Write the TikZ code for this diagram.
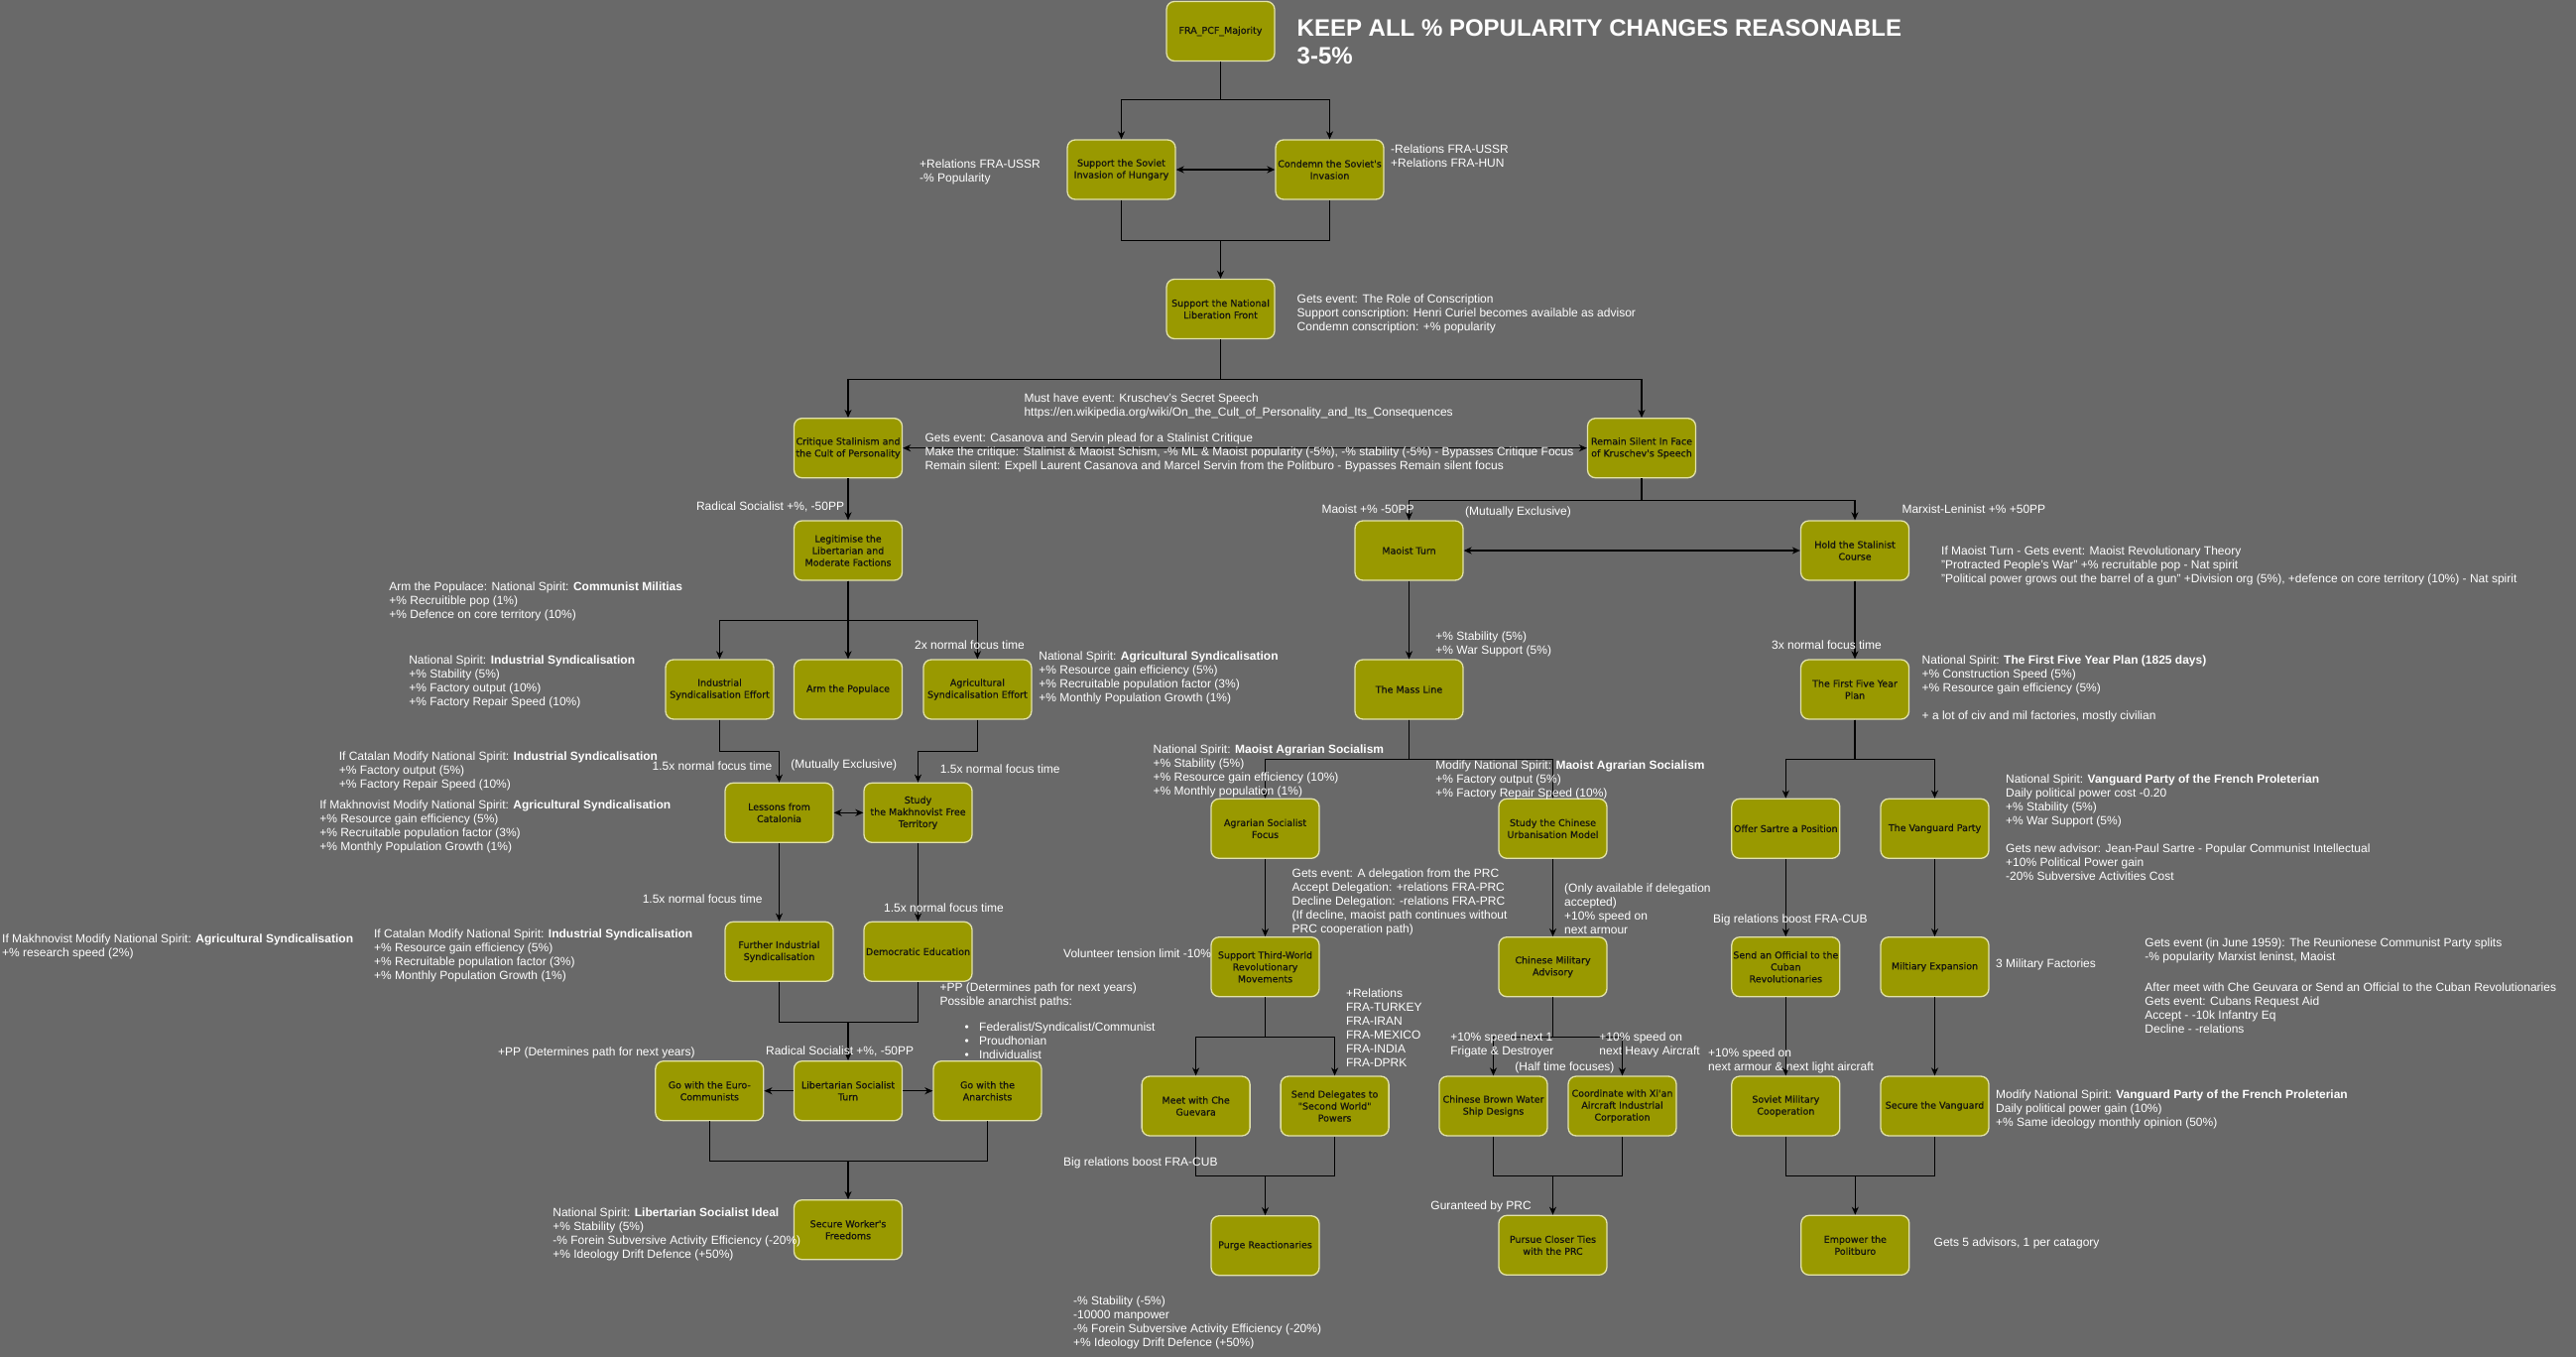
\documentclass[tikz,border=0pt]{standalone}
\usepackage{fontspec}
\setmainfont{Liberation Sans}
\newfontfamily\boxfont[FakeBold=0.6]{DejaVu Sans}
\usetikzlibrary{arrows.meta}
\definecolor{bg}{RGB}{105,105,105}
\definecolor{olivefill}{RGB}{153,153,0}
\definecolor{boxline}{RGB}{226,226,170}
\definecolor{boxtext}{RGB}{20,20,15}
\begin{document}
\begin{tikzpicture}[x=1pt,y=-1pt,
  focus/.style={draw=boxline, fill=olivefill, rounded corners=8pt, line width=1.3pt,
    minimum width=109pt, minimum height=60pt, inner sep=1pt, align=center,
    text=boxtext, font=\boxfont\fontsize{9.5}{12}\selectfont},
  note/.style={inner sep=0pt, anchor=north west, align=left, text=white,
    font=\fontsize{12}{14}\selectfont},
  link/.style={draw=black, line width=1.3pt},
  arr/.style={link, -{Stealth[length=8pt,width=7pt,inset=2.5pt]}},
  dbl/.style={link, {Stealth[length=8pt,width=7pt,inset=2.5pt]}-{Stealth[length=8pt,width=7pt,inset=2.5pt]}}]

% canvas
\fill[bg] (0,0) rectangle (2597,1368);
\useasboundingbox (0,0) rectangle (2597,1368);

% ---------- focus boxes ----------
\node[focus] (fra)  at (1230.5,31.5)  {FRA\_PCF\_Majority};
\node[focus] (sup)  at (1130.5,171)   {Support the Soviet\\Invasion of Hungary};
\node[focus] (con)  at (1340.5,171)   {Condemn the Soviet's\\Invasion};
\node[focus] (nlf)  at (1230.5,311.5) {Support the National\\Liberation Front};
\node[focus] (crit) at (855,451.7)    {Critique Stalinism and\\the Cult of Personality};
\node[focus] (rem)  at (1655,451.7)   {Remain Silent In Face\\of Kruschev's Speech};
\node[focus] (leg)  at (855,555)      {Legitimise the\\Libertarian and\\Moderate Factions};
\node[focus] (mao)  at (1420.5,555)   {Maoist Turn};
\node[focus] (hold) at (1870,555)     {Hold the Stalinist\\Course};
\node[focus] (ind)  at (725.5,695)    {Industrial\\Syndicalisation Effort};
\node[focus] (arm)  at (855,695)      {Arm the Populace};
\node[focus] (agr)  at (985.4,695)    {Agricultural\\Syndicalisation Effort};
\node[focus] (mass) at (1420.5,695)   {The Mass Line};
\node[focus] (five) at (1870,695)     {The First Five Year\\Plan};
\node[focus] (les)  at (785.5,819.3)  {Lessons from\\Catalonia};
\node[focus] (mak)  at (925.5,819.3)  {Study\\the Makhnovist Free\\Territory};
\node[focus] (agf)  at (1275.5,835.3) {Agrarian Socialist\\Focus};
\node[focus] (urb)  at (1565.5,835.3) {Study the Chinese\\Urbanisation Model};
\node[focus] (sar)  at (1800.3,835.3) {Offer Sartre a Position};
\node[focus] (van)  at (1950.5,835.3) {The Vanguard Party};
\node[focus] (fis)  at (785.5,959.3)  {Further Industrial\\Syndicalisation};
\node[focus] (dem)  at (925.5,959.3)  {Democratic Education};
\node[focus] (tw)   at (1275.5,974.7) {Support Third-World\\Revolutionary\\Movements};
\node[focus] (cma)  at (1565.5,974.7) {Chinese Military\\Advisory};
\node[focus] (off)  at (1800.3,974.7) {Send an Official to the\\Cuban\\Revolutionaries};
\node[focus] (mex)  at (1950.5,974.7) {Miltiary Expansion};
\node[focus] (euro) at (715.3,1099.7) {Go with the Euro-\\Communists};
\node[focus] (lib)  at (855,1099.7)   {Libertarian Socialist\\Turn};
\node[focus] (ana)  at (995.5,1099.7) {Go with the\\Anarchists};
\node[focus] (che)  at (1205.6,1115)  {Meet with Che\\Guevara};
\node[focus] (del)  at (1345.6,1115)  {Send Delegates to\\"Second World"\\Powers};
\node[focus] (bws)  at (1505.5,1115)  {Chinese Brown Water\\Ship Designs};
\node[focus] (xian) at (1635.5,1115)  {Coordinate with Xi'an\\Aircraft Industrial\\Corporation};
\node[focus] (smc)  at (1800.3,1115)  {Soviet Military\\Cooperation};
\node[focus] (svg)  at (1950.5,1115)  {Secure the Vanguard};
\node[focus] (sec)  at (855,1239.7)   {Secure Worker's\\Freedoms};
\node[focus] (pur)  at (1275.5,1255.7){Purge Reactionaries};
\node[focus] (pct)  at (1565.5,1255.3){Pursue Closer Ties\\with the PRC};
\node[focus] (emp)  at (1870.3,1255.3){Empower the\\Politburo};

% ---------- connectors ----------
\draw[arr] (fra.south) -- ++(0,38.5) -| (sup.north);
\draw[arr] (fra.south) -- ++(0,38.5) -| (con.north);
\draw[dbl] (sup.east) -- (con.west);
\draw[link] (sup.south) -- ++(0,41) coordinate (m1) -| (con.south);
\draw[arr] (m1 -| nlf.north) -- (nlf.north);
\draw[arr] (nlf.south) -- ++(0,40) -| (crit.north);
\draw[arr] (nlf.south) -- ++(0,40) -| (rem.north);
\draw[dbl] (crit.east) -- (rem.west);
\draw[arr] (crit.south) -- (leg.north);
\draw[arr] (rem.south) -- ++(0,22) -| (mao.north);
\draw[arr] (rem.south) -- ++(0,22) -| (hold.north);
\draw[dbl] (mao.east) -- (hold.west);
\draw[arr] (mao.south) -- (mass.north);
\draw[arr] (hold.south) -- (five.north);
\draw[arr] (leg.south) -- ++(0,40) -| (ind.north);
\draw[arr] (leg.south) -- (arm.north);
\draw[arr] (leg.south) -- ++(0,40) -| (agr.north);
\draw[arr] (ind.south) -- ++(0,32) -| (les.north);
\draw[arr] (agr.south) -- ++(0,32) -| (mak.north);
\draw[dbl] (les.east) -- (mak.west);
\draw[arr] (les.south) -- (fis.north);
\draw[arr] (mak.south) -- (dem.north);
\draw[link] (fis.south) -- ++(0,40.4) coordinate (m2) -| (dem.south);
\draw[arr] (m2 -| lib.north) -- (lib.north);
\draw[arr] (lib.west) -- (euro.east);
\draw[arr] (lib.east) -- (ana.west);
\draw[link] (euro.south) -- ++(0,40) coordinate (m3) -| (ana.south);
\draw[arr] (m3 -| sec.north) -- (sec.north);
\draw[arr] (mass.south) -- ++(0,40) -| (agf.north);
\draw[arr] (mass.south) -- ++(0,40) -| (urb.north);
\draw[arr] (five.south) -- ++(0,40) -| (sar.north);
\draw[arr] (five.south) -- ++(0,40) -| (van.north);
\draw[arr] (agf.south) -- (tw.north);
\draw[arr] (urb.south) -- (cma.north);
\draw[arr] (sar.south) -- (off.north);
\draw[arr] (van.south) -- (mex.north);
\draw[arr] (tw.south) -- ++(0,40) -| (che.north);
\draw[arr] (tw.south) -- ++(0,40) -| (del.north);
\draw[arr] (cma.south) -- ++(0,40) -| (bws.north);
\draw[arr] (cma.south) -- ++(0,40) -| (xian.north);
\draw[arr] (off.south) -- (smc.north);
\draw[arr] (mex.south) -- (svg.north);
\draw[link] (che.south) -- ++(0,40) coordinate (m4) -| (del.south);
\draw[arr] (m4 -| pur.north) -- (pur.north);
\draw[link] (bws.south) -- ++(0,40) coordinate (m5) -| (xian.south);
\draw[arr] (m5 -| pct.north) -- (pct.north);
\draw[link] (smc.south) -- ++(0,40) coordinate (m6) -| (svg.south);
\draw[arr] (m6 -| emp.north) -- (emp.north);

% ---------- notes ----------
\node[note, font=\bfseries\fontsize{24}{28.5}\selectfont] (title) at (1307.5,16)
  {\strut KEEP ALL \% POPULARITY CHANGES REASONABLE\\3-5\%};
\node[note] (t1) at (927,159.2) {\strut+Relations FRA-USSR\\-\% Popularity};
\node[note] (t2) at (1402,144.2) {\strut-Relations FRA-USSR\\+Relations FRA-HUN};
\node[note] (t3) at (1307.5,295.2) {\strut Gets event: The Role of Conscription\\Support conscription: Henri Curiel becomes available as advisor\\Condemn conscription: +\% popularity};
\node[note] (t4) at (1032.3,395.2) {\strut Must have event: Kruschev's Secret Speech\\https://en.wikipedia.org/wiki/On\_the\_Cult\_of\_Personality\_and\_Its\_Consequences};
\node[note] (t5) at (932.3,435.2) {\strut Gets event: Casanova and Servin plead for a Stalinist Critique\\Make the critique: Stalinist \& Maoist Schism, -\% ML \& Maoist popularity (-5\%), -\% stability (-5\%) - Bypasses Critique Focus\\Remain silent: Expell Laurent Casanova and Marcel Servin from the Politburo - Bypasses Remain silent focus};
\node[note] (t6) at (701.8,504.8) {\strut Radical Socialist +\%, -50PP};
\node[note] (t7) at (1332.3,507.2) {\strut Maoist +\% -50PP};
\node[note] (t8) at (1477,509.2) {\strut(Mutually Exclusive)};
\node[note] (t9) at (1917.3,507.2) {\strut Marxist-Leninist +\% +50PP};
\node[note] (t10) at (1957,549.2) {\strut If Maoist Turn - Gets event: Maoist Revolutionary Theory\\"Protracted People's War" +\% recruitable pop - Nat spirit\\"Political power grows out the barrel of a gun" +Division org (5\%), +defence on core territory (10\%) - Nat spirit};
\node[note] (t11) at (392.2,585.2) {\strut Arm the Populace: National Spirit: \textbf{Communist Militias}\\+\% Recruitible pop (1\%)\\+\% Defence on core territory (10\%)};
\node[note] (t12) at (412.1,659.2) {\strut National Spirit: \textbf{Industrial Syndicalisation}\\+\% Stability (5\%)\\+\% Factory output (10\%)\\+\% Factory Repair Speed (10\%)};
\node[note] (t13) at (922,644.8) {\strut 2x normal focus time};
\node[note] (t14) at (1047.2,655.2) {\strut National Spirit: \textbf{Agricultural Syndicalisation}\\+\% Resource gain efficiency (5\%)\\+\% Recruitable population factor (3\%)\\+\% Monthly Population Growth (1\%)};
\node[note] (t15) at (1447.2,635.2) {\strut+\% Stability (5\%)\\+\% War Support (5\%)};
\node[note] (t16) at (1785.9,644.8) {\strut 3x normal focus time};
\node[note] (t17) at (1937.5,659.2) {\strut National Spirit: \textbf{The First Five Year Plan (1825 days)}\\+\% Construction Speed (5\%)\\+\% Resource gain efficiency (5\%)\\[14pt]+ a lot of civ and mil factories, mostly civilian};
\node[note] (t18) at (341.6,756.2) {\strut If Catalan Modify National Spirit: \textbf{Industrial Syndicalisation}\\+\% Factory output (5\%)\\+\% Factory Repair Speed (10\%)};
\node[note] (t19) at (322.1,805.2) {\strut If Makhnovist Modify National Spirit: \textbf{Agricultural Syndicalisation}\\+\% Resource gain efficiency (5\%)\\+\% Recruitable population factor (3\%)\\+\% Monthly Population Growth (1\%)};
\node[note] (t20) at (657.5,766.2) {\strut 1.5x normal focus time};
\node[note] (t21) at (797.2,764.2) {\strut(Mutually Exclusive)};
\node[note] (t22) at (947.7,769.2) {\strut 1.5x normal focus time};
\node[note] (t23) at (1162.4,749.2) {\strut National Spirit: \textbf{Maoist Agrarian Socialism}\\+\% Stability (5\%)\\+\% Resource gain efficiency (10\%)\\+\% Monthly population (1\%)};
\node[note] (t24) at (1447.2,765.2) {\strut Modify National Spirit: \textbf{Maoist Agrarian Socialism}\\+\% Factory output (5\%)\\+\% Factory Repair Speed (10\%)};
\node[note] (t25) at (1302.5,874.2) {\strut Gets event: A delegation from the PRC\\Accept Delegation: +relations FRA-PRC\\Decline Delegation: -relations FRA-PRC\\(If decline, maoist path continues without\\PRC cooperation path)};
\node[note] (t26) at (1577,889.2) {\strut(Only available if delegation\\accepted)\\+10\% speed on\\next armour};
\node[note] (t27) at (647.6,900.2) {\strut 1.5x normal focus time};
\node[note] (t28) at (891,909.5) {\strut 1.5x normal focus time};
\node[note] (t29) at (1727,920.2) {\strut Big relations boost FRA-CUB};
\node[note] (t30) at (2,940.2) {\strut If Makhnovist Modify National Spirit: \textbf{Agricultural Syndicalisation}\\+\% research speed (2\%)};
\node[note] (t31) at (376.9,935.2) {\strut If Catalan Modify National Spirit: \textbf{Industrial Syndicalisation}\\+\% Resource gain efficiency (5\%)\\+\% Recruitable population factor (3\%)\\+\% Monthly Population Growth (1\%)};
\node[note] (t32) at (1072,955.2) {\strut Volunteer tension limit -10\%};
\node[note] (t33) at (2162.2,944.2) {\strut Gets event (in June 1959): The Reunionese Communist Party splits\\-\% popularity Marxist leninst, Maoist\\[17pt]After meet with Che Geuvara or Send an Official to the Cuban Revolutionaries\\Gets event: Cubans Request Aid\\Accept - -10k Infantry Eq\\Decline - -relations};
\node[note] (t34) at (2012,965.2) {\strut 3 Military Factories};
\node[note] (t35) at (2022,779.2) {\strut National Spirit: \textbf{Vanguard Party of the French Proleterian}\\Daily political power cost -0.20\\+\% Stability (5\%)\\+\% War Support (5\%)\\[14pt]Gets new advisor: Jean-Paul Sartre - Popular Communist Intellectual\\+10\% Political Power gain\\-20\% Subversive Activities Cost};
\node[note] (t36) at (947.3,989.2) {\strut+PP (Determines path for next years)\\Possible anarchist paths:\\[12pt]
  \hspace*{25.2pt}\makebox[14.5pt][l]{\textbullet}Federalist/Syndicalist/Communist\\
  \hspace*{25.2pt}\makebox[14.5pt][l]{\textbullet}Proudhonian\\
  \hspace*{25.2pt}\makebox[14.5pt][l]{\textbullet}Individualist};
\node[note] (t37) at (502,1054.2) {\strut+PP (Determines path for next years)};
\node[note] (t38) at (771.9,1053.2) {\strut Radical Socialist +\%, -50PP};
\node[note] (t39) at (1356.8,995.2) {\strut+Relations\\FRA-TURKEY\\FRA-IRAN\\FRA-MEXICO\\FRA-INDIA\\FRA-DPRK};
\node[note] (t40) at (1462.1,1039.2) {\strut+10\% speed next 1\\Frigate \& Destroyer};
\node[note] (t41) at (1612.2,1039.2) {\strut+10\% speed on\\next Heavy Aircraft};
\node[note] (t42) at (1527.2,1069.2) {\strut(Half time focuses)};
\node[note] (t43) at (1722,1055.2) {\strut+10\% speed on\\next armour \& next light aircraft};
\node[note] (t44) at (1072,1165.2) {\strut Big relations boost FRA-CUB};
\node[note] (t45) at (557.2,1216.2) {\strut National Spirit: \textbf{Libertarian Socialist Ideal}\\+\% Stability (5\%)\\-\% Forein Subversive Activity Efficiency (-20\%)\\+\% Ideology Drift Defence (+50\%)};
\node[note] (t46) at (1442.2,1209.2) {\strut Guranteed by PRC};
\node[note] (t47) at (2012,1097.2) {\strut Modify National Spirit: \textbf{Vanguard Party of the French Proleterian}\\Daily political power gain (10\%)\\+\% Same ideology monthly opinion (50\%)};
\node[note] (t48) at (1949.5,1246.2) {\strut Gets 5 advisors, 1 per catagory};
\node[note] (t49) at (1082,1305.2) {\strut-\% Stability (-5\%)\\-10000 manpower\\-\% Forein Subversive Activity Efficiency (-20\%)\\+\% Ideology Drift Defence (+50\%)};

\end{tikzpicture}
\end{document}
